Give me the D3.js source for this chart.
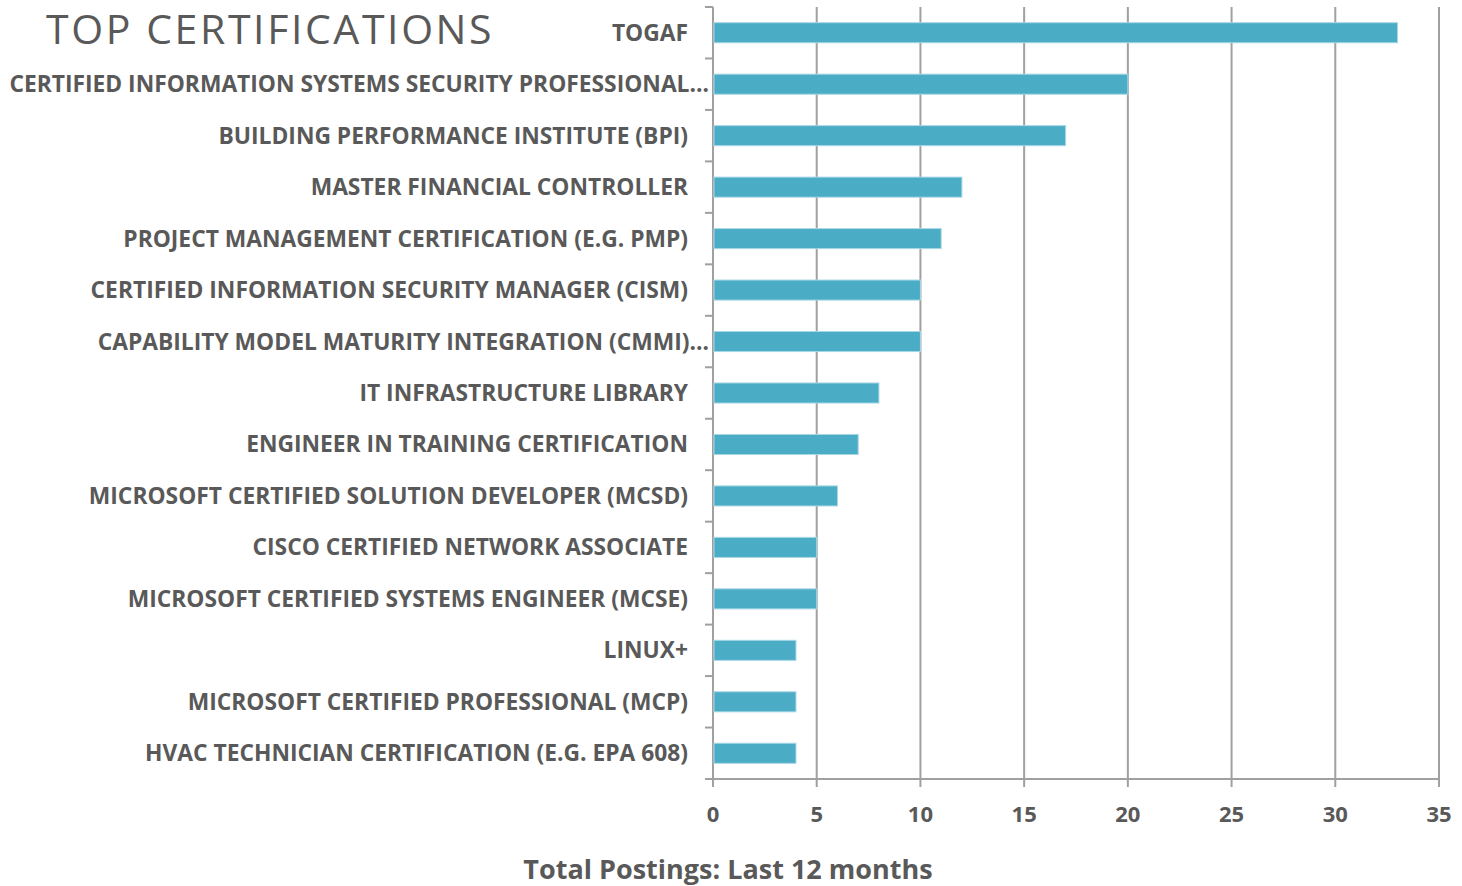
<!DOCTYPE html>
<html><head><meta charset="utf-8">
<script src="https://cdn.jsdelivr.net/npm/d3@7"></script>
<style>body{margin:0;background:#fff;} svg{display:block;}</style>
</head><body>
<svg id="chart" width="1462" height="886"></svg>
<script>
const categories = [
  "TOGAF",
  "CERTIFIED INFORMATION SYSTEMS SECURITY PROFESSIONAL…",
  "BUILDING PERFORMANCE INSTITUTE (BPI)",
  "MASTER FINANCIAL CONTROLLER",
  "PROJECT MANAGEMENT CERTIFICATION (E.G. PMP)",
  "CERTIFIED INFORMATION SECURITY MANAGER (CISM)",
  "CAPABILITY MODEL MATURITY INTEGRATION (CMMI)…",
  "IT INFRASTRUCTURE LIBRARY",
  "ENGINEER IN TRAINING CERTIFICATION",
  "MICROSOFT CERTIFIED SOLUTION DEVELOPER (MCSD)",
  "CISCO CERTIFIED NETWORK ASSOCIATE",
  "MICROSOFT CERTIFIED SYSTEMS ENGINEER (MCSE)",
  "LINUX+",
  "MICROSOFT CERTIFIED PROFESSIONAL (MCP)",
  "HVAC TECHNICIAN CERTIFICATION (E.G. EPA 608)"
];
const values = [33, 20, 17, 12, 11, 10, 10, 8, 7, 6, 5, 5, 4, 4, 4];
const xTicks = [0, 5, 10, 15, 20, 25, 30, 35];
const chartTitle = "TOP CERTIFICATIONS";
const xTitle = "Total Postings: Last 12 months";

(function () {
const svg = d3.select("#chart");
const mLeft = 713, mRight = 1439, mTop = 7, mBottom = 779;
const grey = "#a0a0a0", textCol = "#595959";
const font = "'Open Sans', sans-serif";

const x = d3.scaleLinear().domain([0, 35]).range([mLeft, mRight]);
const y = d3.scaleBand().domain(categories).range([mTop, mBottom]).paddingInner(0.61).paddingOuter(0.305);

svg.append("g").selectAll("line").data(xTicks).join("line")
  .attr("x1", d => x(d)).attr("x2", d => x(d))
  .attr("y1", mTop).attr("y2", mBottom + 8)
  .attr("stroke", grey).attr("stroke-width", 2);

svg.append("line").attr("x1", mLeft).attr("x2", mRight).attr("y1", mBottom).attr("y2", mBottom)
  .attr("stroke", grey).attr("stroke-width", 2);

const step = y.step();
svg.append("g").selectAll("line").data(d3.range(categories.length + 1)).join("line")
  .attr("x1", mLeft - 8).attr("x2", mLeft)
  .attr("y1", i => mTop + i * step).attr("y2", i => mTop + i * step)
  .attr("stroke", grey).attr("stroke-width", 2);

svg.append("g").selectAll("rect").data(values).join("rect")
  .attr("x", x(0) + 1)
  .attr("y", (d, i) => y(categories[i]))
  .attr("width", d => x(d) - x(0) - 1)
  .attr("height", y.bandwidth())
  .attr("fill", "#4BACC6")
  .attr("stroke", "#a8d8e6").attr("stroke-width", 1);

svg.append("g").selectAll("text").data(categories).join("text")
  .attr("x", d => d.endsWith("…") ? mLeft - 4 : mLeft - 25)
  .attr("y", d => y(d) + y.bandwidth() / 2)
  .attr("dy", "0.35em")
  .attr("text-anchor", "end")
  .attr("font-family", font).attr("font-weight", 700).attr("font-size", 22.8)
  .attr("fill", textCol)
  .text(d => d);

svg.append("g").selectAll("text").data(xTicks).join("text")
  .attr("x", d => x(d)).attr("y", 822)
  .attr("text-anchor", "middle")
  .attr("font-family", font).attr("font-weight", 700).attr("font-size", 22)
  .attr("fill", textCol)
  .text(d => d);

svg.append("text").attr("x", 46).attr("y", 44)
  .attr("font-family", font).attr("font-weight", 400).attr("font-size", 41)
  .attr("letter-spacing", 2.6)
  .attr("fill", textCol).text(chartTitle);

svg.append("text").attr("x", 728).attr("y", 879)
  .attr("text-anchor", "middle")
  .attr("font-family", font).attr("font-weight", 700).attr("font-size", 27)
  .attr("fill", textCol).text(xTitle);
})();
</script>
</body></html>
